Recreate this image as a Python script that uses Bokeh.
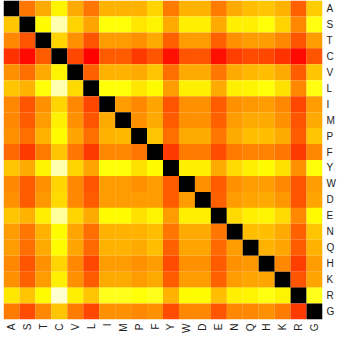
import math
import numpy as np
from bokeh.plotting import figure
from bokeh.models import ColumnDataSource, LinearColorMapper, FactorRange
from bokeh.embed import file_html
from bokeh.resources import INLINE

labels = ["A", "S", "T", "C", "V", "L", "I", "M", "P", "F",
          "Y", "W", "D", "E", "N", "Q", "H", "K", "R", "G"]

row_A = [0, .54, .62, .73, .62, .54, .63, .63, .63, .68, .55, .63, .63, .55, .62, .65, .66, .63, .51, .67]
row_S = [.66, 0, .74, .92, .68, .61, .75, .75, .71, .73, .62, .72, .72, .62, .72, .72, .75, .68, .57, .76]
row_T = [.57, .49, 0, .68, .58, .49, .60, .60, .58, .62, .51, .60, .60, .51, .58, .60, .60, .57, .49, .60]
row_C = [.44, .38, .50, 0, .47, .37, .50, .50, .45, .49, .39, .49, .49, .39, .46, .48, .47, .44, .38, .49]
row_V = [.58, .53, .62, .73, 0, .51, .63, .63, .62, .66, .53, .62, .62, .54, .62, .64, .65, .62, .50, .66]
row_L = [.66, .63, .75, .92, .69, 0, .75, .75, .71, .74, .60, .72, .72, .62, .72, .73, .75, .70, .57, .76]
row_I = [.57, .49, .58, .68, .57, .47, 0, .60, .57, .61, .49, .58, .58, .50, .58, .59, .60, .57, .47, .60]
row_M = [.57, .50, .60, .72, .58, .49, .62, 0, .58, .62, .50, .58, .58, .51, .60, .62, .62, .58, .49, .62]
row_P = [.58, .53, .63, .74, .61, .53, .63, .64, 0, .66, .53, .62, .62, .54, .62, .65, .65, .62, .50, .66]
row_F = [.52, .45, .55, .66, .54, .45, .57, .57, .54, 0, .45, .55, .55, .48, .55, .56, .56, .54, .45, .57]
row_Y = [.66, .62, .73, .92, .68, .61, .75, .75, .70, .74, 0, .72, .72, .62, .69, .72, .74, .70, .58, .75]
row_W = [.57, .50, .58, .68, .57, .49, .60, .60, .58, .60, .50, 0, .58, .50, .58, .60, .60, .57, .49, .60]
row_D = [.58, .50, .59, .69, .57, .50, .60, .60, .60, .60, .50, .60, 0, .51, .60, .61, .62, .59, .49, .61]
row_E = [.66, .63, .72, .90, .68, .62, .74, .74, .70, .73, .60, .72, .72, 0, .69, .72, .73, .69, .57, .74]
row_N = [.60, .54, .63, .74, .61, .53, .63, .63, .63, .65, .54, .62, .62, .54, 0, .65, .65, .62, .51, .66]
row_Q = [.60, .53, .62, .74, .61, .52, .63, .63, .62, .65, .51, .61, .61, .52, .60, 0, .63, .61, .50, .63]
row_H = [.57, .49, .58, .68, .57, .47, .60, .60, .58, .60, .48, .58, .58, .50, .58, .59, 0, .57, .46, .60]
row_K = [.58, .51, .60, .72, .58, .50, .62, .62, .60, .62, .50, .60, .60, .51, .60, .61, .61, 0, .49, .61]
row_R = [.71, .66, .74, .95, .72, .66, .77, .77, .75, .77, .63, .74, .74, .65, .72, .73, .76, .73, 0, .77]
row_G = [.55, .48, .57, .66, .55, .47, .58, .58, .57, .58, .48, .57, .57, .49, .57, .57, .58, .55, .45, 0]

rows = [row_A, row_S, row_T, row_C, row_V, row_L, row_I, row_M, row_P, row_F,
        row_Y, row_W, row_D, row_E, row_N, row_Q, row_H, row_K, row_R, row_G]

# "hot" colour map
t = np.linspace(0, 1, 256)
r = np.clip(t / 0.365079, 0, 1)
g = np.clip((t - 0.365079) / (0.746032 - 0.365079), 0, 1)
b = np.clip((t - 0.746032) / (1 - 0.746032), 0, 1)
palette = ["#%02x%02x%02x" % (int(round(a * 255)), int(round(c * 255)), int(round(d * 255)))
           for a, c, d in zip(r, g, b)]
mapper = LinearColorMapper(palette=palette, low=0, high=1)

xs, ys, vs = [], [], []
for yi, row in zip(labels, rows):
    for xi, v in zip(labels, row):
        xs.append(xi)
        ys.append(yi)
        vs.append(v)
src = ColumnDataSource(dict(x=xs, y=ys, v=vs))

p = figure(x_range=FactorRange(factors=labels),
           y_range=FactorRange(factors=list(reversed(labels))),
           frame_width=319, frame_height=319,
           y_axis_location="right",
           output_backend="svg", toolbar_location=None,
           min_border_left=3, min_border_top=0, min_border_right=0, min_border_bottom=0)
p.rect(x="x", y="y", width=1, height=1, source=src,
       fill_color={"field": "v", "transform": mapper}, line_color=None, dilate=True)

p.outline_line_color = None
p.grid.grid_line_color = None
for ax in (p.xaxis, p.yaxis):
    ax.axis_line_color = None
    ax.major_tick_line_color = None
    ax.minor_tick_line_color = None
    ax.major_tick_out = 0
    ax.major_label_text_font = "Liberation Sans"
    ax.major_label_text_font_size = "10px"
    ax.major_label_text_color = "#222222"
    ax.major_label_standoff = 4
p.xaxis.major_label_orientation = math.pi / 2

open("out.html", "w").write(file_html(p, INLINE))
